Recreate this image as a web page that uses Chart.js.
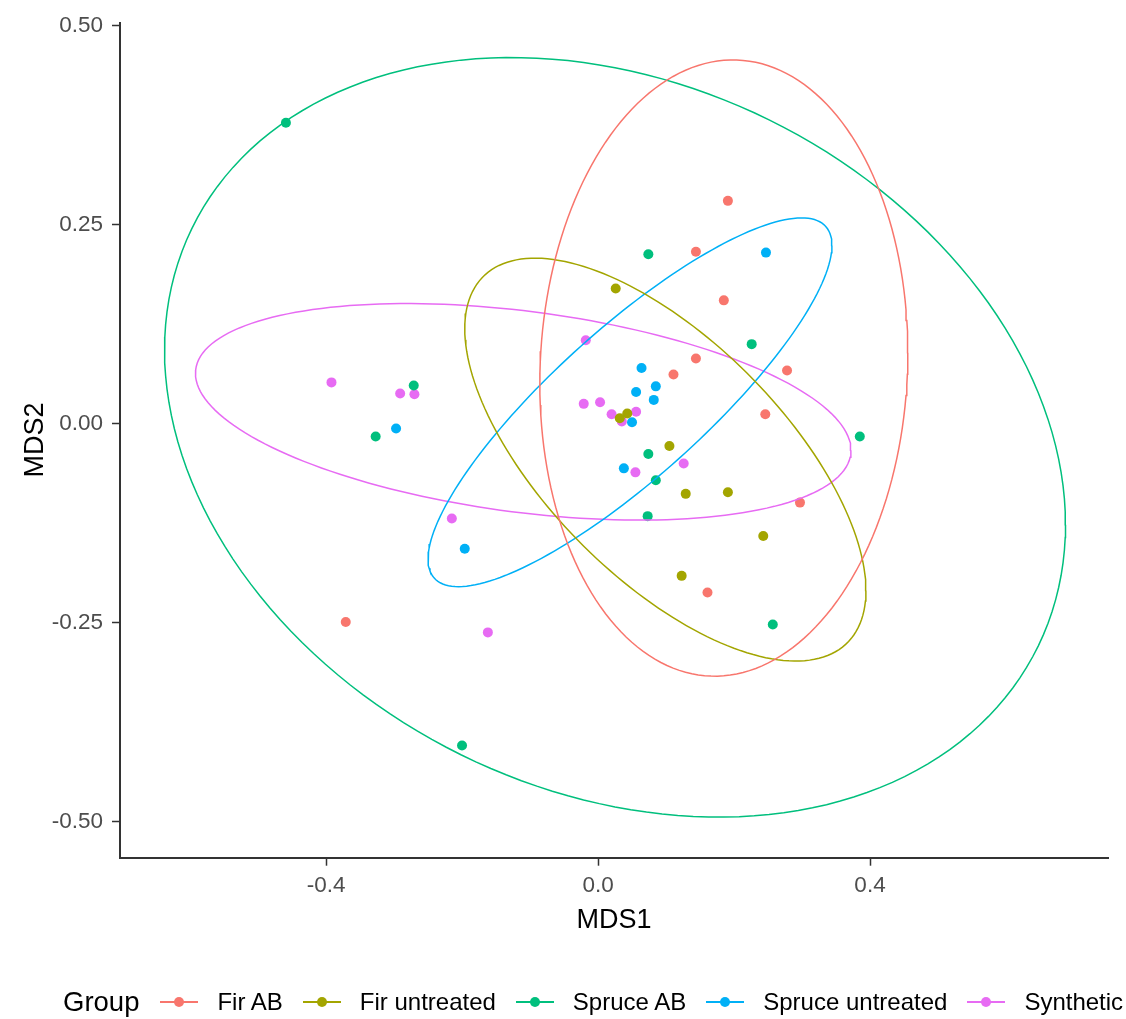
<!DOCTYPE html>
<html>
<head>
<meta charset="utf-8">
<script src="https://cdn.jsdelivr.net/npm/chart.js@4/dist/chart.umd.min.js"></script>
<style>
html,body{margin:0;padding:0;background:#fff;}
#wrap{position:relative;width:1126px;height:1019px;overflow:hidden;}
#c{position:absolute;left:0;top:0;}
#legend{position:absolute;left:63px;top:982px;height:40px;display:flex;align-items:center;
  font-family:"Liberation Sans",Arial,sans-serif;color:#000;white-space:nowrap;}
#legend .title{font-size:27.5px;margin-right:21px;}
#legend .sym{position:relative;width:38px;height:20px;margin-right:19px;}
#legend .sym .ln{position:absolute;left:0;right:0;top:9px;height:2px;}
#legend .sym .dt{position:absolute;left:14px;top:5px;width:10px;height:10px;border-radius:50%;}
#legend .lab{font-size:24px;margin-right:20px;}
</style>
</head>
<body>
<div id="wrap">
<canvas id="c" width="1126" height="1019"></canvas>
<div id="legend"></div>
</div>
<script>
// ---- data ----
const groups = ["Fir AB", "Fir untreated", "Spruce AB", "Spruce untreated", "Synthetic"];
const colors = ["#F8766D", "#A3A500", "#00BF7D", "#00B0F6", "#E76BF3"];

const firAB_x = [0.191, 0.144, 0.185, 0.144, 0.111, 0.278, 0.246, 0.297, 0.161, -0.371];
const firAB_y = [0.280, 0.216, 0.155, 0.082, 0.062, 0.067, 0.012, -0.099, -0.212, -0.249];

const firUnt_x = [0.026, 0.043, 0.032, 0.105, 0.129, 0.191, 0.243, 0.123];
const firUnt_y = [0.170, 0.013, 0.007, -0.028, -0.088, -0.086, -0.141, -0.191];

const spruceAB_x = [-0.459, 0.074, 0.226, -0.271, -0.327, 0.385, 0.074, 0.085, 0.073, 0.257, -0.200];
const spruceAB_y = [0.378, 0.213, 0.100, 0.048, -0.016, -0.016, -0.038, -0.071, -0.116, -0.252, -0.404];

const spruceUnt_x = [0.247, 0.064, 0.085, 0.056, 0.082, 0.050, -0.297, 0.038, -0.196];
const spruceUnt_y = [0.215, 0.070, 0.047, 0.040, 0.030, 0.002, -0.006, -0.056, -0.157];

const synth_x = [-0.018, -0.392, -0.291, -0.270, -0.021, 0.003, 0.020, 0.056, 0.035, 0.126, 0.055, -0.215, -0.162];
const synth_y = [0.105, 0.052, 0.038, 0.037, 0.025, 0.027, 0.012, 0.015, 0.003, -0.050, -0.061, -0.119, -0.262];

// ellipse parameters per group (centre, half-extent in x and y, correlation)
const ellCx = [0.185, 0.099, 0.025, 0.047, -0.110];
const ellCy = [0.070, -0.045, -0.017, 0.027, 0.015];
const ellSx = [0.2706, 0.295, 0.6625, 0.297, 0.482];
const ellSy = [0.387, 0.253, 0.477, 0.2316, 0.136];
const ellR  = [0.05, -0.65, -0.23, 0.85, -0.355];

const xTicks = [-0.4, 0.0, 0.4];
const yTicks = [-0.50, -0.25, 0.00, 0.25, 0.50];
const xLimits = [-0.703, 0.750];
const yLimits = [-0.545, 0.504];

// ---- build datasets ----
const xs = [firAB_x, firUnt_x, spruceAB_x, spruceUnt_x, synth_x];
const ys = [firAB_y, firUnt_y, spruceAB_y, spruceUnt_y, synth_y];

function ellipsePts(i) {
  const pts = [];
  const n = 180;
  const k = Math.sqrt(1 - ellR[i] * ellR[i]);
  for (let j = 0; j <= n; j++) {
    const t = 2 * Math.PI * j / n;
    pts.push({
      x: ellCx[i] + ellSx[i] * Math.cos(t),
      y: ellCy[i] + ellSy[i] * (ellR[i] * Math.cos(t) + k * Math.sin(t))
    });
  }
  return pts;
}

const datasets = [];
groups.forEach((g, i) => {
  datasets.push({
    label: g,
    data: xs[i].map((x, j) => ({x: x, y: ys[i][j]})),
    backgroundColor: colors[i],
    borderColor: colors[i],
    pointRadius: 5,
    pointBorderWidth: 0,
    pointHoverRadius: 5,
    showLine: false,
    order: 1
  });
});
groups.forEach((g, i) => {
  datasets.push({
    label: g + " ellipse",
    data: ellipsePts(i),
    borderColor: colors[i],
    backgroundColor: colors[i],
    borderWidth: 1.5,
    pointRadius: 0,
    showLine: true,
    fill: false,
    tension: 0,
    order: 0
  });
});

Chart.defaults.font.family = '"Liberation Sans", Arial, sans-serif';

const chart = new Chart(document.getElementById('c'), {
  type: 'scatter',
  data: {datasets: datasets},
  options: {
    responsive: false,
    animation: false,
    events: [],
    layout: {padding: {left: 0, right: 18, top: 21.7, bottom: 81.3}},
    plugins: {legend: {display: false}, tooltip: {enabled: false}},
    scales: {
      x: {
        type: 'linear',
        min: xLimits[0], max: xLimits[1],
        afterBuildTicks: s => { s.ticks = xTicks.map(v => ({value: v})); },
        afterFit: s => { s.height = 80; },
        grid: {display: true, drawOnChartArea: false, drawTicks: true, tickLength: 8, tickColor: '#333333', tickWidth: 1.5},
        border: {display: true, color: '#333333', width: 2},
        ticks: {color: '#4D4D4D', font: {size: 22.5}, padding: 7, maxRotation: 0,
          callback: v => v.toFixed(1)},
        title: {display: true, text: 'MDS1', color: '#000', font: {size: 27}, padding: {top: 0, bottom: 0.5}}
      },
      y: {
        type: 'linear',
        min: yLimits[0], max: yLimits[1],
        afterBuildTicks: s => { s.ticks = yTicks.map(v => ({value: v})); },
        afterFit: s => { s.width = 120; },
        grid: {display: true, drawOnChartArea: false, drawTicks: true, tickLength: 8, tickColor: '#333333', tickWidth: 1.5},
        border: {display: true, color: '#333333', width: 2},
        ticks: {color: '#4D4D4D', font: {size: 22.5}, padding: 9,
          callback: v => v.toFixed(2)},
        title: {display: true, text: 'MDS2', color: '#000', font: {size: 27}, padding: {top: 19, bottom: 0}}
      }
    }
  }
});

// ---- legend as HTML, built from the chart's datasets ----
const leg = document.getElementById('legend');
const t = document.createElement('span');
t.className = 'title'; t.textContent = 'Group';
leg.appendChild(t);
chart.data.datasets.slice(0, groups.length).forEach(ds => {
  const sym = document.createElement('span'); sym.className = 'sym';
  const ln = document.createElement('span'); ln.className = 'ln'; ln.style.background = ds.borderColor;
  const dt = document.createElement('span'); dt.className = 'dt'; dt.style.background = ds.backgroundColor;
  sym.appendChild(ln); sym.appendChild(dt);
  const lab = document.createElement('span'); lab.className = 'lab'; lab.textContent = ds.label;
  leg.appendChild(sym); leg.appendChild(lab);
});
</script>
</body>
</html>
